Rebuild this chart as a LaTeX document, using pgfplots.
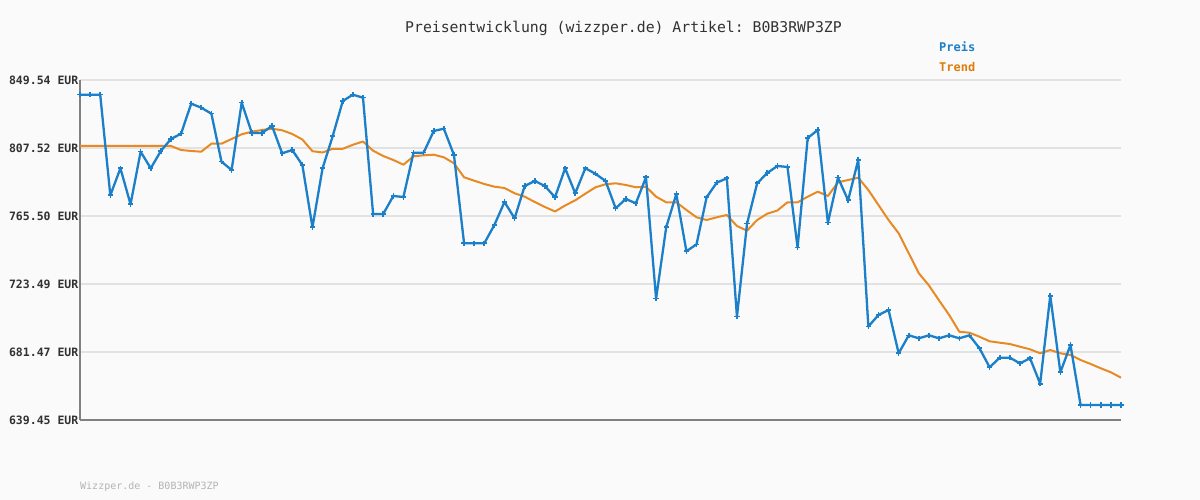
\documentclass[border=0pt]{standalone}
\usepackage{pgfplots}
\pgfplotsset{compat=1.18}
\usepackage{pgfplotstable}
\usepackage{fontspec}
\setmonofont{DejaVu Sans Mono}
\definecolor{bgc}{RGB}{250,250,250}
\definecolor{preisc}{RGB}{27,127,201}
\definecolor{trendc}{RGB}{232,138,36}
\definecolor{trendtxt}{RGB}{222,125,10}
\definecolor{gridc}{RGB}{226,226,226}
\definecolor{axisc}{RGB}{128,128,128}
\definecolor{titlec}{RGB}{50,50,50}
\definecolor{footc}{RGB}{180,180,180}

\pgfplotstableread{
i preis trend
0 840.46 808.76
1 840.46 808.76
2 840.46 808.76
3 778.29 808.76
4 794.98 808.76
5 772.73 808.76
6 805.23 808.76
7 794.98 808.76
8 805.67 808.76
9 813.08 808.76
10 816.36 806.28
11 834.89 805.67
12 832.42 805.23
13 828.72 810.18
14 799.06 810.18
15 793.93 813.08
16 835.51 815.99
17 816.79 817.59
18 816.79 818.64
19 821.12 819.45
20 804.25 818.46
21 806.28 816.17
22 797.02 812.77
23 758.52 805.54
24 794.98 804.74
25 814.75 807.03
26 836.56 807.03
27 840.46 809.50
28 838.60 811.54
29 766.74 805.85
30 766.74 802.58
31 777.86 800.10
32 777.24 797.20
33 804.62 802.39
34 804.62 803.01
35 818.03 803.38
36 819.45 801.77
37 803.19 798.07
38 748.63 789.42
39 748.63 787.31
40 748.63 785.27
41 759.94 783.61
42 774.15 782.80
43 764.08 779.53
44 784.04 777.43
45 787.13 774.15
46 784.04 771.06
47 777.06 768.28
48 794.98 771.99
49 779.53 775.20
50 795.04 779.28
51 791.58 783.24
52 787.13 785.09
53 770.26 785.71
54 776.01 784.66
55 773.35 783.24
56 789.42 783.61
57 714.40 777.43
58 758.52 773.97
59 779.10 773.97
60 743.69 769.21
61 748.01 764.70
62 777.06 763.03
63 786.08 764.70
64 788.80 766.12
65 703.28 759.32
66 760.74 756.42
67 785.71 763.03
68 792.07 766.92
69 796.40 768.90
70 795.78 773.97
71 746.04 773.97
72 813.70 777.43
73 818.64 780.52
74 761.36 777.86
75 789.17 786.33
76 775.20 787.75
77 800.10 789.17
78 697.22 781.57
79 704.32 772.30
80 707.41 763.03
81 680.66 754.81
82 691.78 742.45
83 689.93 730.09
84 691.78 722.55
85 689.93 713.28
86 691.78 704.32
87 689.93 694.00
88 691.78 693.39
89 683.75 690.91
90 672.01 688.07
91 677.94 687.21
92 677.94 686.40
93 674.48 684.74
94 677.57 683.13
95 661.87 680.66
96 716.25 682.70
97 668.92 680.66
98 685.79 679.61
99 648.71 676.52
100 648.71 674.05
101 648.71 671.39
102 648.71 668.92
103 648.71 665.58
}\datatable

\begin{document}
\begin{tikzpicture}[x=1bp,y=1bp]
\fill[bgc] (0,0) rectangle (1200,500);
\useasboundingbox (0,0) rectangle (1200,500);
\begin{axis}[
  at={(80bp,80bp)}, anchor=south west,
  scale only axis, width=1041bp, height=340bp,
  xmin=0, xmax=103, ymin=639.45, ymax=849.54,
  axis lines*=left,
  axis line style={draw=axisc, line width=2.5bp},
  xtick=\empty,
  ytick={639.45,681.47,723.49,765.50,807.52,849.54},
  yticklabels={639.45 EUR,681.47 EUR,723.49 EUR,765.50 EUR,807.52 EUR,849.54 EUR},
  major tick length=0pt,
  ymajorgrids,
  grid style={draw=gridc, line width=2bp},
  yticklabel style={font=\fontsize{11.5bp}{12bp}\selectfont\ttfamily\bfseries, text=titlec, inner sep=0pt, xshift=-1.5bp},
  clip=false,
]
\addplot[trendc, line width=2bp, line join=round, no marks] table[x=i, y=trend] {\datatable};
\addplot[preisc, line width=2.3bp, line join=round, mark=+, mark size=2.6bp, mark options={draw=preisc, line width=1.6bp}] table[x=i, y=preis] {\datatable};
\end{axis}
\node[text=titlec, font=\fontsize{14.8bp}{16bp}\selectfont\ttfamily] at (623.5,472) {Preisentwicklung (wizzper.de) Artikel: B0B3RWP3ZP};
\node[anchor=west, inner sep=0pt, text=preisc, font=\fontsize{12bp}{13bp}\selectfont\ttfamily\bfseries] at (939,453) {Preis};
\node[anchor=west, inner sep=0pt, text=trendtxt, font=\fontsize{12bp}{13bp}\selectfont\ttfamily\bfseries] at (939,433) {Trend};
\node[anchor=west, inner sep=0pt, text=footc, font=\fontsize{10bp}{11bp}\selectfont\ttfamily] at (80,13) {Wizzper.de - B0B3RWP3ZP};
\end{tikzpicture}
\end{document}
